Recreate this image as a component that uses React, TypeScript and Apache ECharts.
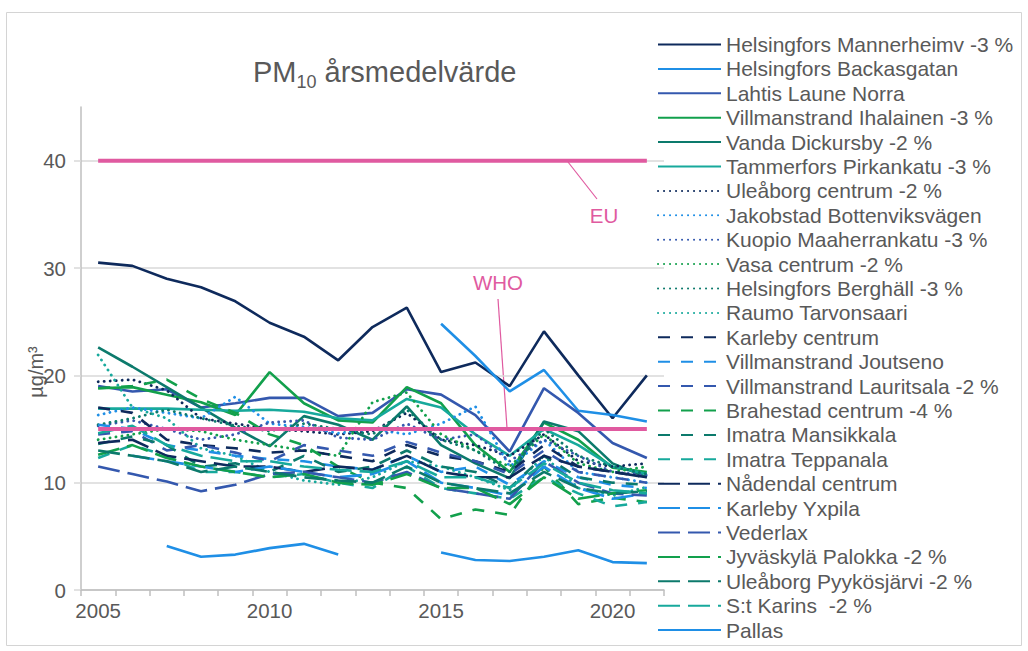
import React, { useEffect, useRef } from "react";
import * as echarts from "echarts";

const years = ["2005","2006","2007","2008","2009","2010","2011","2012","2013","2014","2015","2016","2017","2018","2019","2020","2021"];
const yTicks = [0, 10, 20, 30, 40];

const mannerheimv = [30.5,30.2,29.0,28.2,26.9,24.9,23.6,21.4,24.5,26.3,20.3,21.2,19.0,24.1,20.0,16.0,20.0];
const backasgatan = [null,null,null,null,null,null,null,null,null,null,24.8,21.8,18.5,20.5,16.7,16.3,15.7];
const lahtis = [19.0,18.5,18.7,17.0,17.4,17.9,17.9,16.2,16.5,18.7,18.2,16.3,12.9,18.8,16.5,13.7,12.3];
const ihalainen = [18.8,18.9,18.2,17.5,16.3,20.3,17.4,15.8,15.6,18.9,17.4,13.5,11.0,15.6,14.0,11.4,11.0];
const dickursby = [22.6,20.8,18.9,17.0,15.1,13.4,16.2,15.4,14.0,17.1,13.5,11.8,10.4,15.7,14.8,11.8,10.5];
const pirkankatu = [16.9,16.9,16.9,16.8,16.7,16.8,16.6,16.0,15.8,17.8,17.0,14.5,12.5,15.0,13.5,11.5,10.8];
const uleaborgC = [19.4,19.6,18.6,16.0,15.5,15.0,14.8,14.5,14.8,16.5,14.0,13.5,12.5,14.5,12.0,11.5,11.8];
const jakobstad = [16.3,17.0,16.5,16.0,18.0,15.5,15.2,14.6,15.0,14.5,15.5,17.1,11.5,14.0,11.0,10.5,10.0];
const kuopio = [15.3,15.8,15.0,14.0,14.5,15.6,15.8,14.2,14.0,15.5,14.0,14.5,12.0,14.0,12.5,11.0,10.7];
const vasa = [14.0,14.5,15.0,14.8,14.0,13.5,13.0,12.5,17.5,18.4,14.5,13.0,11.5,14.5,11.8,11.0,11.5];
const berghall = [15.4,16.0,16.8,16.0,15.3,14.8,15.5,15.0,14.5,16.8,14.0,13.0,11.0,15.0,12.5,11.5,10.8];
const raumo = [21.9,17.0,16.0,13.2,12.5,11.0,10.2,9.8,10.5,12.0,11.5,10.5,9.3,12.5,9.5,8.8,9.6];
const karlebyC = [17.0,16.5,14.0,13.5,13.2,12.8,13.0,12.5,12.0,13.5,12.5,12.0,11.0,13.5,11.5,11.0,10.5];
const joutseno = [15.4,15.0,13.5,13.0,12.5,12.2,12.0,11.5,11.2,12.5,11.0,11.5,9.8,12.0,10.5,9.8,9.5];
const lauritsala = [14.5,14.8,13.0,13.5,12.8,12.0,13.5,13.0,12.5,13.8,12.8,12.0,10.8,13.0,11.0,10.5,10.0];
const brahestad = [18.8,19.0,19.6,17.8,16.5,14.5,13.5,11.5,10.0,9.5,6.6,7.5,7.0,11.5,8.0,8.6,8.2];
const mansikkala = [13.6,14.3,13.5,11.5,11.8,11.0,12.5,11.0,11.5,13.0,11.5,11.0,9.5,12.5,10.5,10.0,9.8];
const teppanala = [12.3,13.5,12.5,11.0,11.0,10.5,10.8,10.0,9.5,11.5,9.5,9.0,8.5,10.5,9.0,7.8,8.2];
const nadendal = [13.7,14.0,12.5,12.0,11.5,11.5,11.0,11.5,11.2,12.5,11.0,10.5,10.5,12.5,11.5,11.0,10.5];
const yxpila = [null,12.5,12.0,11.5,11.0,11.5,11.0,10.5,10.8,12.0,10.0,9.5,8.8,11.5,9.5,8.5,9.0];
const vederlax = [11.5,10.8,10.1,9.2,9.8,10.8,11.0,10.5,10.0,11.0,9.5,9.0,8.5,12.0,10.0,9.0,8.8];
const palokka = [12.6,13.5,12.3,11.5,11.0,10.5,10.8,10.0,9.8,10.8,9.5,9.5,8.0,10.5,8.5,9.0,9.3];
const pyykosjarvi = [13.0,12.5,12.0,11.0,11.5,11.0,10.5,10.2,10.0,11.5,10.0,9.5,9.0,11.0,9.5,9.0,9.2];
const stKarins = [14.6,15.3,13.5,12.5,12.0,12.0,11.5,11.2,11.0,12.0,10.5,10.5,9.5,11.8,10.0,9.3,9.0];
const pallas = [null,null,4.1,3.1,3.3,3.9,4.3,3.3,null,null,3.5,2.8,2.7,3.1,3.7,2.6,2.5];
const euLimit = [40,40,40,40,40,40,40,40,40,40,40,40,40,40,40,40,40];
const whoLimit = [15,15,15,15,15,15,15,15,15,15,15,15,15,15,15,15,15];

const seriesNames = [
  "Helsingfors Mannerheimv -3 %","Helsingfors Backasgatan","Lahtis Laune Norra","Villmanstrand Ihalainen -3 %",
  "Vanda Dickursby -2 %","Tammerfors Pirkankatu -3 %","Uleåborg centrum -2 %","Jakobstad Bottenviksvägen",
  "Kuopio Maaherrankatu -3 %","Vasa centrum -2 %","Helsingfors Berghäll -3 %","Raumo Tarvonsaari",
  "Karleby centrum","Villmanstrand Joutseno","Villmanstrand Lauritsala -2 %","Brahestad centrum -4 %",
  "Imatra Mansikkala","Imatra Teppanala","Nådendal centrum","Karleby Yxpila","Vederlax",
  "Jyväskylä Palokka -2 %","Uleåborg Pyykösjärvi -2 %","S:t Karins  -2 %","Pallas",
];
const seriesData = [
  mannerheimv, backasgatan, lahtis, ihalainen, dickursby, pirkankatu,
  uleaborgC, jakobstad, kuopio, vasa, berghall, raumo,
  karlebyC, joutseno, lauritsala, brahestad, mansikkala, teppanala,
  nadendal, yxpila, vederlax, palokka, pyykosjarvi, stKarins, pallas,
];

const NAVY = "#0E2A5C";
const LBLUE = "#1F8FE6";
const MBLUE = "#3458AE";
const GREEN = "#12A04C";
const DTEAL = "#0C7A6C";
const TEAL = "#17A99C";
const PINK = "#E05AA0";
const palette = [NAVY, LBLUE, MBLUE, GREEN, DTEAL, TEAL];
const TXT = "#595959";
const FONT = "'Liberation Sans', Arial, sans-serif";

function styleFor(i: number) {
  if (i === 24) return { color: LBLUE, type: "solid" as any, cap: "butt" };
  const color = palette[i % 6];
  const group = Math.floor(i / 6);
  if (group === 0) return { color, type: "solid" as any, cap: "butt" };
  if (group === 1) return { color, type: [0.1, 5.9] as any, cap: "round" };
  if (group === 2) return { color, type: [12, 11] as any, cap: "butt" };
  return { color, type: [22, 8] as any, cap: "butt" };
}

export default function App() {
  const ref = useRef<HTMLDivElement>(null);
  useEffect(() => {
    if (!ref.current) return;
    const chart = echarts.init(ref.current, null, { renderer: "svg" });
    const series: any[] = seriesData.map((d, i) => {
      const s = styleFor(i);
      return {
        name: seriesNames[i],
        type: "line",
        data: d,
        symbol: "none",
        showSymbol: false,
        connectNulls: false,
        lineStyle: { color: s.color, width: s.cap === "round" ? 2.8 : 2.6, type: s.type, cap: s.cap },
        itemStyle: { color: s.color },
        emphasis: { disabled: true },
        z: 2,
      };
    });
    series.push({
      name: "EU", type: "line", data: euLimit, symbol: "none",
      lineStyle: { color: PINK, width: 4 }, itemStyle: { color: PINK }, emphasis: { disabled: true }, z: 3,
    });
    series.push({
      name: "WHO", type: "line", data: whoLimit, symbol: "none",
      lineStyle: { color: PINK, width: 4 }, itemStyle: { color: PINK }, emphasis: { disabled: true }, z: 3,
    });

    chart.setOption({
      animation: false,
      backgroundColor: "#ffffff",
      textStyle: { fontFamily: FONT },
      grid: { left: 81, top: 107, right: 364, bottom: 61, containLabel: false },
      xAxis: {
        type: "category",
        data: years,
        boundaryGap: true,
        axisLine: { show: true, lineStyle: { color: "#BFBFBF", width: 1.5 } },
        axisTick: { show: true, interval: 0, length: 6, lineStyle: { color: "#BFBFBF", width: 1.5 } },
        axisLabel: { interval: 4, color: TXT, fontSize: 20.5, margin: 10, fontFamily: FONT },
        splitLine: { show: false },
      },
      yAxis: {
        type: "value",
        min: yTicks[0],
        max: 45,
        interval: 10,
        axisLine: { show: true, lineStyle: { color: "#BFBFBF", width: 1.5 } },
        axisTick: { show: true, length: 7, lineStyle: { color: "#D9D9D9", width: 1.5 } },
        axisLabel: {
          color: TXT, fontSize: 20.5, margin: 15, fontFamily: FONT, showMaxLabel: false,
          formatter: (v: number) => (yTicks.indexOf(v) >= 0 ? String(v) : ""),
        },
        splitLine: { show: true, showMaxLine: false, lineStyle: { color: "#D9D9D9", width: 1.5 } },
      },
      legend: {
        data: seriesNames,
        orient: "vertical",
        left: 657,
        top: 34,
        bottom: 0,
        padding: 0,
        itemWidth: 63,
        itemHeight: 14,
        itemGap: 3.4,
        selectedMode: false,
        itemStyle: { opacity: 0 },
        textStyle: { color: TXT, fontSize: 21, lineHeight: 20, fontFamily: FONT },
      },
      series,
      graphic: [
        {
          type: "rect", silent: true, z: -10,
          shape: { x: 6.5, y: 12.5, width: 1015, height: 633 },
          style: { fill: "none", stroke: "#D4D4D4", lineWidth: 1 },
        },
        {
          type: "text", x: 253, y: 57, silent: true,
          style: {
            text: "{a|PM}{s|10}{a| årsmedelvärde}",
            textVerticalAlign: "top",
            fill: TXT,
            rich: {
              a: { fontSize: 29, lineHeight: 29, verticalAlign: "top", fill: TXT, fontFamily: FONT },
              s: { fontSize: 18, lineHeight: 50, fill: TXT, fontFamily: FONT },
            },
          },
        },
        {
          type: "text", x: 36, y: 372, rotation: Math.PI / 2, silent: true,
          style: { text: "µg/m³", fill: TXT, fontSize: 20, fontFamily: FONT, textAlign: "center", textVerticalAlign: "middle" },
        },
        {
          type: "line", silent: true,
          shape: { x1: 568, y1: 162, x2: 597, y2: 199 },
          style: { stroke: PINK, lineWidth: 1.2 },
        },
        {
          type: "text", x: 604, y: 215, silent: true,
          style: { text: "EU", fill: PINK, fontSize: 20.5, fontFamily: FONT, textAlign: "center", textVerticalAlign: "middle" },
        },
        {
          type: "line", silent: true,
          shape: { x1: 498, y1: 299, x2: 507, y2: 428 },
          style: { stroke: PINK, lineWidth: 1.2 },
        },
        {
          type: "text", x: 498, y: 282, silent: true,
          style: { text: "WHO", fill: PINK, fontSize: 20.5, fontFamily: FONT, textAlign: "center", textVerticalAlign: "middle" },
        },
      ],
    });
    return () => chart.dispose();
  }, []);
  return <div ref={ref} style={{ position: "fixed", left: 0, top: 0, width: 1028, height: 651 }} />;
}
